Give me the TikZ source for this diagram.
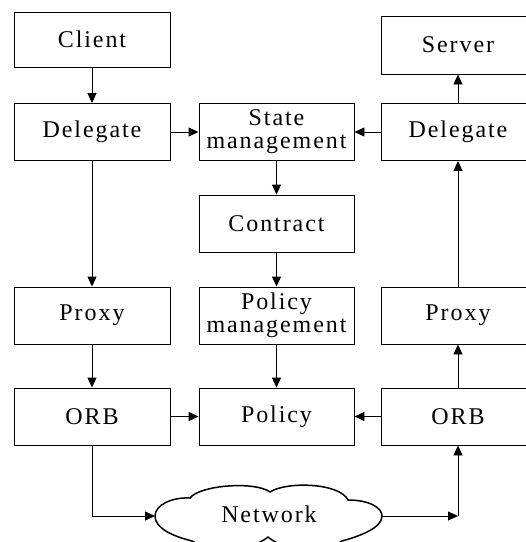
\documentclass[tikz,border=0pt]{standalone}
\usepackage{fontspec}
\setmainfont{Liberation Serif}
\usetikzlibrary{arrows.meta}

\tikzset{
	blk/.style={draw,line width=0.9pt,minimum width=155pt,minimum height=57pt,
		inner sep=2pt,align=center,
		font=\fontsize{24}{23}\selectfont\addfontfeature{LetterSpace=8}},
	arr/.style={line width=0.9pt,-{Triangle[length=10pt,width=9pt]}}
}

\begin{document}
\begin{tikzpicture}[x=1pt,y=-1pt]
	\useasboundingbox (0,0) rectangle (526,542);
	\clip (0,0) rectangle (526,542);
	% client side
	\node[blk,minimum width=156pt,minimum height=55pt] (client) at (92,39.5) {Client};
	\node[blk,minimum width=156pt] (delL) at (92,132) {Delegate};
	\node[blk,minimum width=156pt] (proxL) at (92,315.5) {Proxy};
	\node[blk,minimum width=156pt] (orbL) at (92,416.5) {ORB};
	% middle column
	\node[blk] (state) at (276.5,132) {State\\management};
	\node[blk] (contract) at (276.5,223.5) {Contract};
	\node[blk] (polm) at (276.5,315.5) {Policy\\management};
	\node[blk] (policy) at (276.5,416.5) {Policy};
	% server side
	\node[blk,minimum width=154pt,minimum height=58pt] (server) at (458,45) {Server};
	\node[blk,minimum width=154pt] (delR) at (458,132) {Delegate};
	\node[blk,minimum width=154pt] (proxR) at (458,315.5) {Proxy};
	\node[blk,minimum width=154pt] (orbR) at (458,416.5) {ORB};
	% network cloud
	\coordinate (netW) at (155,516);
	\coordinate (netE) at (382,516);
	\draw[line width=1.5pt] (netW) .. controls (155,505) and (172,497) .. (190,498)
		.. controls (200,485) and (255,481) .. (270,492)
		.. controls (287,481) and (340,483) .. (348,500)
		.. controls (368,500) and (382,507) .. (netE)
		.. controls (382,528) and (360,536) .. (342,541)
		.. controls (325,552) and (285,552) .. (268,537)
		.. controls (250,552) and (210,552) .. (192,541)
		.. controls (172,536) and (155,528) .. (netW);
	\node[font=\fontsize{24}{24}\selectfont\addfontfeature{LetterSpace=8}] (net) at (269,514) {Network};
	% connectors
	\draw[arr] (client) -- (delL);
	\draw[arr] (delL) -- (proxL);
	\draw[arr] (proxL) -- (orbL);
	\draw[arr] (delL) -- (state);
	\draw[arr] (state) -- (contract);
	\draw[arr] (contract) -- (polm);
	\draw[arr] (polm) -- (policy);
	\draw[arr] (orbL) -- (policy);
	\draw[arr] (orbR) -- (policy);
	\draw[arr] (delR) -- (state);
	\draw[arr] (delR) -- (server);
	\draw[arr] (proxR) -- (delR);
	\draw[arr] (orbR) -- (proxR);
	\draw[arr] (orbL.south) |- (netW);
	\draw[arr] (netE) -- (orbR.south |- netE);
	\draw[arr] (orbR.south |- netE) -- (orbR.south);
\end{tikzpicture}
\end{document}
